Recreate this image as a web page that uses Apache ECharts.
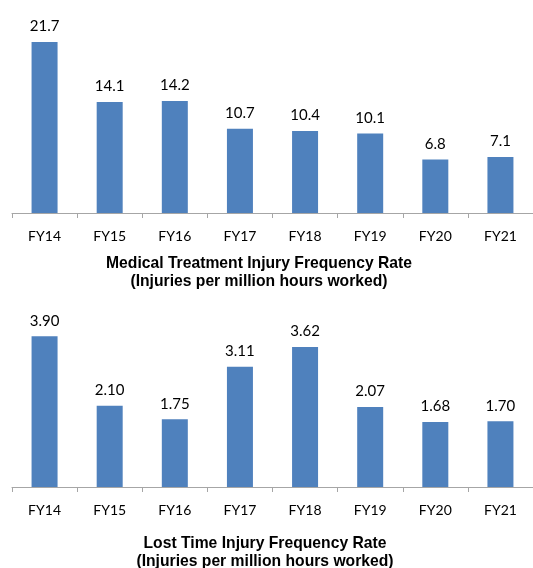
<!DOCTYPE html>
<html>
<head>
<meta charset="utf-8">
<script src="https://cdn.jsdelivr.net/npm/echarts@6/dist/echarts.min.js"></script>
<style>
  html, body { margin: 0; padding: 0; background: #fff; }
  #chart { width: 533px; height: 568px; }
</style>
</head>
<body>
<div id="chart"></div>
<script>
// data
const years = ['FY14', 'FY15', 'FY16', 'FY17', 'FY18', 'FY19', 'FY20', 'FY21'];
const mtifr = [21.7, 14.1, 14.2, 10.7, 10.4, 10.1, 6.8, 7.1];
const ltifr = [3.90, 2.10, 1.75, 3.11, 3.62, 2.07, 1.68, 1.70];

const titleTop = 'Medical Treatment Injury Frequency Rate\n(Injuries per million hours worked)';
const titleBottom = 'Lost Time Injury Frequency Rate\n(Injuries per million hours worked)';

const barColor = '#4f81bd';
const axisGray = '#a6a6a6';

function xAxisFor(idx) {
  return {
    type: 'category',
    gridIndex: idx,
    data: years,
    axisLine: { lineStyle: { color: axisGray, width: 1 } },
    axisTick: { show: true, length: 5, lineStyle: { color: axisGray } },
    axisLabel: { color: '#000', fontFamily: 'Lato', fontSize: 14, margin: 16 }
  };
}

function barSeries(idx, values, digits) {
  return {
    type: 'bar',
    xAxisIndex: idx,
    yAxisIndex: idx,
    data: values,
    barWidth: 26,
    itemStyle: { color: barColor },
    label: {
      show: true,
      position: 'top',
      distance: 8,
      color: '#000',
      fontFamily: 'Lato',
      fontSize: 15,
      formatter: p => p.value.toFixed(digits)
    },
    silent: true
  };
}

const titleStyle = {
  fontFamily: 'Liberation Sans',
  fontWeight: 'bold',
  fontSize: 15.7,
  lineHeight: 18.5,
  color: '#000'
};

const myChart = echarts.init(document.getElementById('chart'), null, { renderer: 'canvas' });

option = {
  animation: false,
  title: [
    { text: titleTop, left: 254, top: 249, textAlign: 'center', textStyle: titleStyle },
    { text: titleBottom, left: 260, top: 529, textAlign: 'center', textStyle: titleStyle }
  ],
  grid: [
    { left: 12, right: -10, top: 16, height: 197 },
    { left: 12, right: -10, top: 313, height: 174 }
  ],
  xAxis: [xAxisFor(0), xAxisFor(1)],
  yAxis: [
    { type: 'value', gridIndex: 0, min: 0, max: 25, show: false, splitLine: { show: false } },
    { type: 'value', gridIndex: 1, min: 0, max: 4.5, show: false, splitLine: { show: false } }
  ],
  series: [
    barSeries(0, mtifr, 1),
    barSeries(1, ltifr, 2)
  ]
};

myChart.setOption(option);
</script>
</body>
</html>
